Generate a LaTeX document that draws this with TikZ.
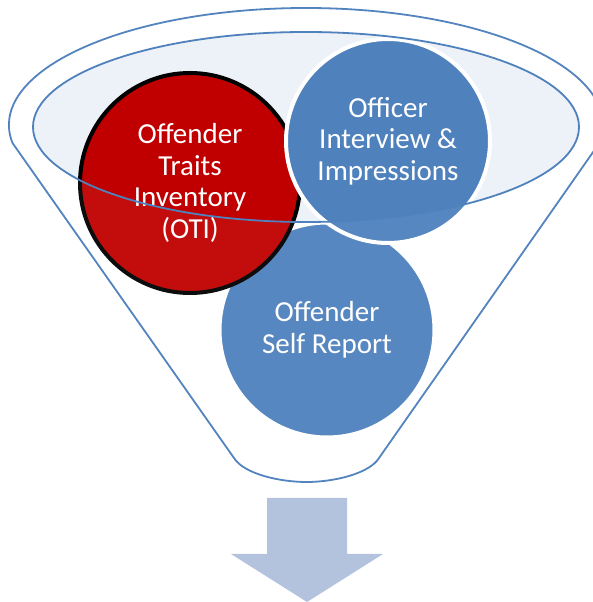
\documentclass[tikz,border=0pt]{standalone}
\usepackage{fontspec}
\setmainfont{Carlito}
\definecolor{lineblue}{HTML}{4F81BD}
\definecolor{ballblue}{HTML}{4F81BD}
\definecolor{ballred}{HTML}{C00000}
\definecolor{rimfill}{HTML}{EDF1F8}
\definecolor{arrowblue}{HTML}{B3C3DE}
\begin{document}
\begin{tikzpicture}[x=1pt, y=1pt,
		ball/.style={circle, inner sep=0pt, align=center, text=white,
			font=\fontsize{29}{31.5}\selectfont},
		funnelline/.style={draw=lineblue, line width=1.8pt}]
		\clip (0,0) rectangle (593,602);
		\useasboundingbox (0,0) rectangle (593,602);
		
		% Funnel
		\draw[funnelline, fill=white] (12.5,459) arc[start angle=188.85, end angle=-8.85, x radius=297, y radius=117]
			-- (379,144) .. controls (369,128) and (333,120) .. (306.5,120)
			.. controls (280,120) and (244,128) .. (234,144) -- cycle;
		\fill[rimfill] (306,475) ellipse[x radius=273, y radius=95];
		
		% Balls
		\node[ball, minimum size=214pt, fill=ballblue, draw=white, line width=3pt] (selfreport) at (327,272) {Offender\\Self Report};
		\node[ball, minimum size=220pt, fill=ballred, draw=black, line width=4pt] (oti) at (190,419) {Offender\\Traits\\Inventory\\(OTI)};
		\node[ball, minimum size=204pt, fill=ballblue, draw=white, line width=4pt] (officer) at (388,461) {Officer\\Interview \&\\Impressions};
		
		% Shade below the rim, rim line on top
		\fill[white, fill opacity=0.05, even odd rule] (12.5,459) arc[start angle=188.85, end angle=-8.85, x radius=297, y radius=117]
			-- (379,144) .. controls (369,128) and (333,120) .. (306.5,120)
			.. controls (280,120) and (244,128) .. (234,144) -- cycle
			(306,475) ellipse[x radius=273, y radius=95];
		\draw[funnelline] (306,475) ellipse[x radius=273, y radius=95];
		
		% Arrow out of the funnel
		\fill[arrowblue] (267,104) -- (347,104) -- (347,48) -- (383,48) -- (307,0) -- (231,48) -- (267,48) -- cycle;
	\end{tikzpicture}
\end{document}
